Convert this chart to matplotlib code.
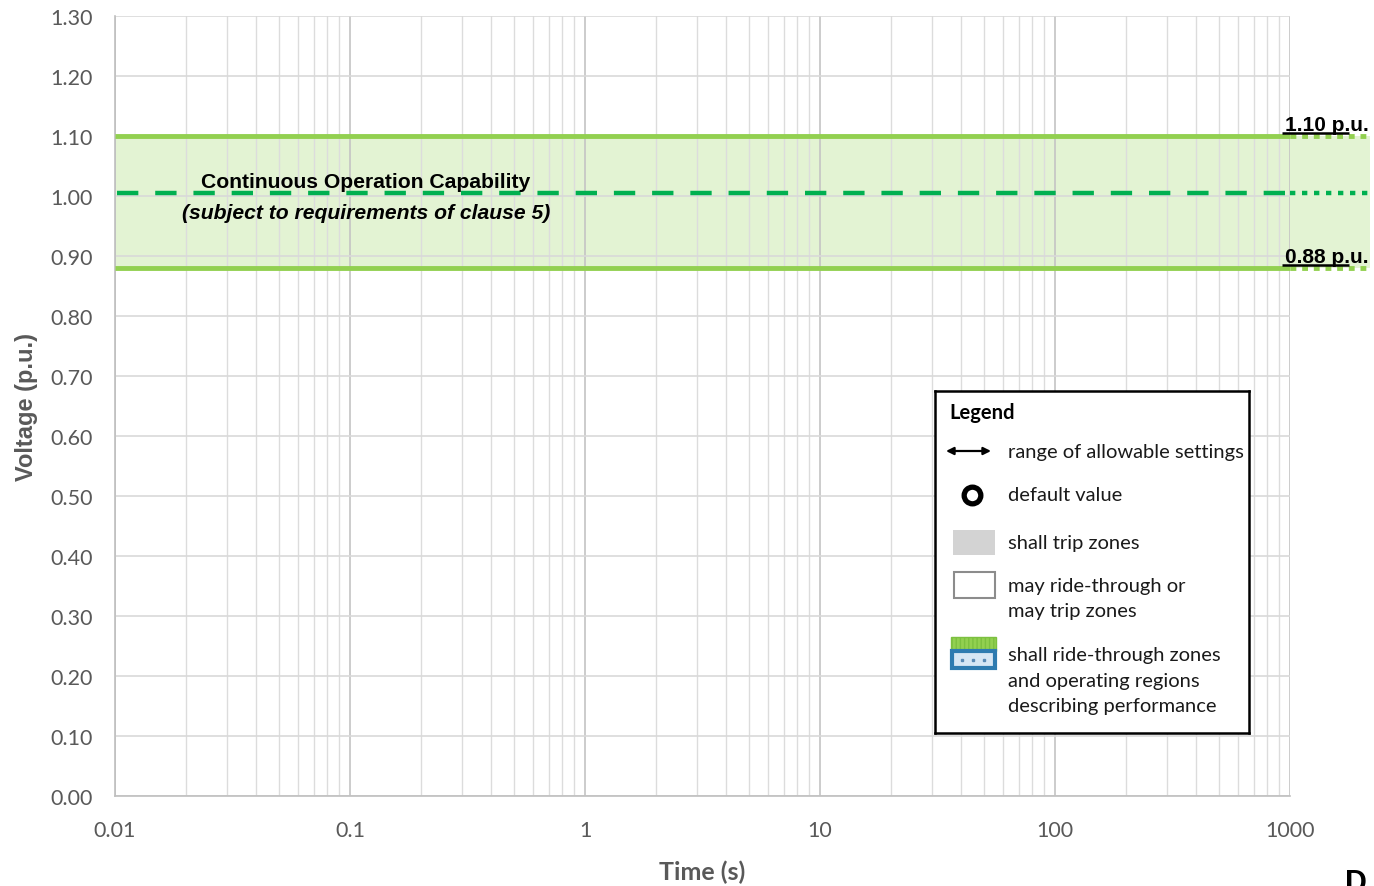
import matplotlib
matplotlib.use("Agg")
import matplotlib.pyplot as plt
from matplotlib.patches import Rectangle
from matplotlib.ticker import FixedLocator, NullFormatter
import matplotlib.transforms as mtransforms

# continuous operation band (p.u.)
v_upper = 1.10
v_lower = 0.88
v_nominal = 1.00
band_labels = ["1.10 p.u.", "0.88 p.u."]

# axes ticks
x_ticks = [0.01, 0.1, 1, 10, 100, 1000]
x_tick_labels = ["0.01", "0.1", "1", "10", "100", "1000"]
y_ticks = [0.00, 0.10, 0.20, 0.30, 0.40, 0.50, 0.60, 0.70,
           0.80, 0.90, 1.00, 1.10, 1.20, 1.30]
y_tick_labels = ["%.2f" % v for v in y_ticks]

legend_items = [
    "range of allowable settings",
    "default value",
    "shall trip zones",
    "may ride-through or\nmay trip zones",
    "shall ride-through zones\nand operating regions\ndescribing performance",
]

BAND_GREEN = "#92d050"
DASH_GREEN = "#00b050"
TICK_GRAY = "#595959"
UI_FONT = ["Lato", "DejaVu Sans"]
ARIAL = ["Liberation Sans", "DejaVu Sans"]

W, H = 1374, 887
fig = plt.figure(figsize=(W / 100, H / 100), dpi=100)
ax = fig.add_axes([115 / W, 1 - 797 / H, 1175 / W, 780 / H])

ax.set_xscale("log")
ax.set_xlim(x_ticks[0], x_ticks[-1])
ax.set_ylim(y_ticks[0], y_ticks[-1])

# grid: decades darker, minor lines lighter
minor = [m * 10.0 ** e for e in range(-2, 3) for m in range(2, 10)]
ax.xaxis.set_major_locator(FixedLocator(x_ticks))
ax.xaxis.set_minor_locator(FixedLocator(minor))
ax.xaxis.set_minor_formatter(NullFormatter())
ax.set_xticks(x_ticks)
ax.set_xticklabels(x_tick_labels)
ax.set_yticks(y_ticks)
ax.set_yticklabels(y_tick_labels)
ax.grid(which="major", axis="x", color="#c4c4c4", lw=1.2)
ax.grid(which="minor", axis="x", color="#dcdcdc", lw=1.0)
ax.grid(which="major", axis="y", color="#d9d9d9", lw=1.2)
ax.set_axisbelow(True)

ax.tick_params(which="both", length=0)
ax.tick_params(axis="x", pad=17, labelsize=15.5, labelcolor=TICK_GRAY)
ax.tick_params(axis="y", pad=16, labelsize=15.5, labelcolor=TICK_GRAY)
for lab in ax.get_xticklabels() + ax.get_yticklabels():
    lab.set_family(UI_FONT)

for s in ["top", "right"]:
    ax.spines[s].set_visible(False)
for s in ["left", "bottom"]:
    ax.spines[s].set_color("#bfbfbf")
    ax.spines[s].set_linewidth(1.2)

ax.set_xlabel("Time (s)", fontsize=18, fontweight="bold", color=TICK_GRAY,
              family=UI_FONT, labelpad=14)
ax.set_ylabel("Voltage (p.u.)", fontsize=17, fontweight="bold", color=TICK_GRAY,
              family=ARIAL, labelpad=9)

# band runs a little past the right edge of the plot
trans = mtransforms.blended_transform_factory(ax.transAxes, ax.transData)
x_end = 1.068
ax.fill_between([0, x_end], v_lower, v_upper, color=BAND_GREEN, alpha=0.25,
                lw=0, transform=trans, clip_on=False, zorder=0.5)
for v in (v_upper, v_lower):
    ax.plot([0, 1], [v, v], color=BAND_GREEN, lw=3.5, transform=trans,
            clip_on=False, solid_capstyle="butt", zorder=3)
    ax.plot([1, x_end], [v, v], color=BAND_GREEN, lw=3.5, transform=trans,
            clip_on=False, ls=(0, (1.2, 1.2)), zorder=3)
ax.plot([0.002, 1], [v_nominal + 0.005] * 2, color=DASH_GREEN, lw=3.2,
        transform=trans, ls=(0, (4.8, 3.8)), clip_on=False,
        solid_capstyle="butt", zorder=3)
ax.plot([1, x_end], [v_nominal + 0.005] * 2, color=DASH_GREEN, lw=3.2,
        transform=trans, ls=(0, (1.2, 1.5)), clip_on=False, zorder=3)

# band labels, underlined
for v, txt in zip((v_upper, v_lower), band_labels):
    ax.text(0.9955, v + 0.004, txt, transform=trans, fontsize=15,
            fontweight="bold", family=ARIAL, ha="left", va="bottom",
            clip_on=False, zorder=5)
    ax.plot([0.9935, 1.0505], [v + 0.0045] * 2, color="black", lw=1.8,
            transform=trans, clip_on=False, solid_capstyle="butt", zorder=5)

ax.text(0.213, 1.025, "Continuous Operation Capability", transform=trans,
        fontsize=15.2, fontweight="bold", family=ARIAL, ha="center", va="center",
        zorder=5)
ax.text(0.2135, 0.972, "(subject to requirements of clause 5)", transform=trans,
        fontsize=15.2, fontweight="bold", style="italic", family=ARIAL,
        ha="center", va="center", zorder=5)

# legend box drawn in pixel units
lx0, lx1, ly0, ly1 = 935, 1249, 392, 734
lg = fig.add_axes([lx0 / W, 1 - ly1 / H, (lx1 - lx0) / W, (ly1 - ly0) / H])
lg.set_xlim(lx0, lx1)
lg.set_ylim(ly1, ly0)
lg.set_xticks([])
lg.set_yticks([])
lg.set_facecolor("white")
for s in lg.spines.values():
    s.set_color("black")
    s.set_linewidth(1.8)

lg.text(949, 413, "Legend", fontsize=14.5, fontweight="bold", family=UI_FONT,
        va="center", ha="left")
lg.annotate("", xy=(991, 452), xytext=(946, 452),
            arrowprops=dict(arrowstyle="<|-|>", color="black", lw=1.6,
                            mutation_scale=11, shrinkA=0, shrinkB=0))
lg.plot([972], [496], marker="o", ms=12, mfc="white", mec="black", mew=3.8)
lg.add_patch(Rectangle((953, 531), 42, 25, facecolor="#d3d3d3", edgecolor="none"))
lg.add_patch(Rectangle((954, 573), 41, 26, facecolor="white", edgecolor="#8c8c8c",
                       lw=1.5))
lg.add_patch(Rectangle((951, 638), 45, 14, facecolor=BAND_GREEN, edgecolor="#7cc040",
                       lw=1.0, hatch="||||", zorder=2))
lg.add_patch(Rectangle((952, 652), 43, 17, facecolor="#d6e6f4", edgecolor="#2e7bb0",
                       lw=3.0, zorder=2))
lg.plot([962, 973, 984], [661, 661, 661], ls="none", marker="s", ms=1.5,
        color="#5a8ab5")

text_y = [452, 495, 543, 599, 681]
for y, txt in zip(text_y, legend_items):
    lg.text(1008, y, txt, fontsize=14.5, family=UI_FONT, va="center", ha="left",
            color="#1a1a1a", linespacing=1.58)

# clipped glyph at the bottom-right edge
fig.text(1345 / W, 1 - 869 / H, "D", fontsize=22, fontweight="bold",
         family=ARIAL, va="top", ha="left")

fig.savefig("out.png", dpi=100)
